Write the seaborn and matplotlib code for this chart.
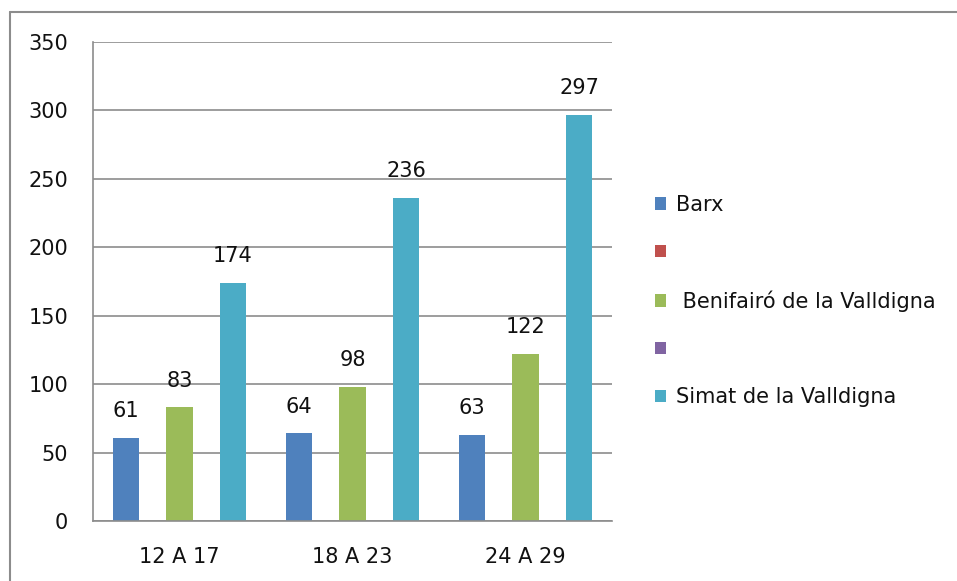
import numpy as np
import pandas as pd
import matplotlib
matplotlib.use("Agg")
import matplotlib.pyplot as plt
import seaborn as sns
from matplotlib.patches import Patch
from matplotlib.lines import Line2D

categories = ["12 A 17", "18 A 23", "24 A 29"]
series_names = ["Barx", " ", " Benifairó de la Valldigna", "  ", "Simat de la Valldigna"]
barx = [61, 64, 63]
benifairo = [83, 98, 122]
simat = [174, 236, 297]
colors = ["#4F81BD", "#C0504D", "#9BBB59", "#8064A2", "#4BACC6"]
yticks = [0, 50, 100, 150, 200, 250, 300, 350]

rows = []
for name, vals in [(series_names[0], barx), (series_names[2], benifairo), (series_names[4], simat)]:
    for c, v in zip(categories, vals):
        rows.append({"cat": c, "series": name, "value": v})
df = pd.DataFrame(rows)

sns.set_style("white")
plt.rcParams['font.family'] = ['DejaVu Sans']
FS = 15
TXT = "#111111"

fig = plt.figure(figsize=(9.57, 5.81), dpi=100)
ax = fig.add_axes([93/957, 60/581, (612-93)/957, (521-42)/581])

sns.barplot(data=df, x="cat", y="value", hue="series", hue_order=series_names,
            order=categories, palette=dict(zip(series_names, colors)),
            width=0.773, errorbar=None, legend=False, ax=ax, saturation=1,
            linewidth=0)

for cont in ax.containers:
    ax.bar_label(cont, fmt="%d", padding=12, fontsize=FS, color=TXT)

ax.set_ylim(0, 350)
ax.set_xlim(-0.5, 2.5)
ax.set_yticks(yticks)
ax.set_yticklabels([str(t) for t in yticks])
grid_c = "#8C8C8C"
ax.yaxis.grid(True, color=grid_c, linewidth=1.2)
ax.set_axisbelow(True)
for s in ["top", "right"]:
    ax.spines[s].set_visible(False)
for s in ["left", "bottom"]:
    ax.spines[s].set_color(grid_c)
    ax.spines[s].set_linewidth(1.2)
ax.tick_params(axis="y", length=6, color=grid_c, width=1.2, pad=12, labelsize=FS, labelcolor=TXT)
ax.set_xticks([0, 1, 2])
ax.set_xticklabels(categories)
ax.set_xticks([-0.5, 0.5, 1.5, 2.5], minor=True)
ax.tick_params(axis="x", which="major", length=0, pad=19, labelsize=FS, labelcolor=TXT)
ax.tick_params(axis="x", which="minor", length=6, color=grid_c, width=1.2)
ax.set_xlabel("")
ax.set_ylabel("")

handles = [Patch(facecolor=c, edgecolor="none") for c in colors]
fig.legend(handles, series_names, loc="center left", bbox_to_anchor=(636/957, 1 - 301/581),
           frameon=False, fontsize=FS, handlelength=0.55, handleheight=0.55,
           handletextpad=0.45, labelspacing=1.33, labelcolor=TXT)

# outer chart frame (clipped)
fig.add_artist(Line2D([10/957, 10/957], [0, 1 - 12/581], transform=fig.transFigure, color="#8C8C8C", lw=1.5))
fig.add_artist(Line2D([10/957, 1], [1 - 12/581, 1 - 12/581], transform=fig.transFigure, color="#8C8C8C", lw=1.5))

fig.savefig("out.png", dpi=100)
